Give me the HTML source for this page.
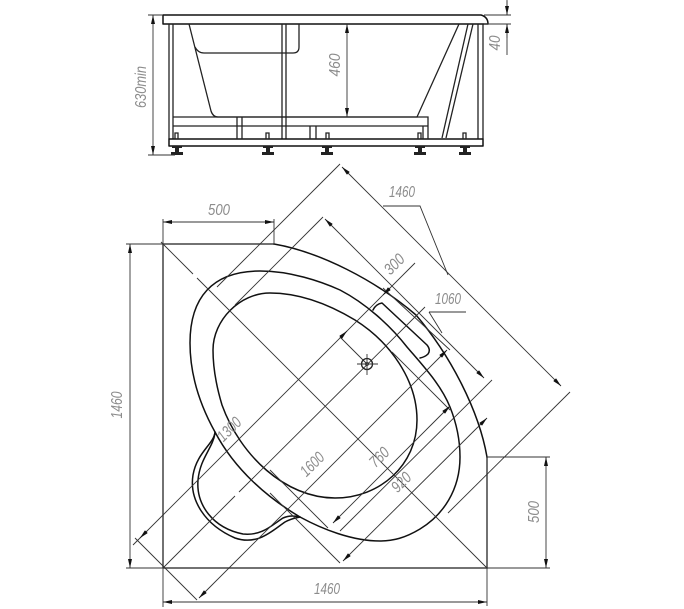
<!DOCTYPE html>
<html>
<head>
<meta charset="utf-8">
<style>
html,body{margin:0;padding:0;background:#fff;width:684px;height:609px;overflow:hidden}
svg{display:block}
text{font-family:"Liberation Sans",sans-serif;font-style:italic;font-size:16px;fill:#8c8c8c;text-anchor:middle;dominant-baseline:middle}
.k{fill:none;stroke:#111;stroke-width:1.5;stroke-linejoin:round;stroke-linecap:round}
.f{fill:none;stroke:#222;stroke-width:1.3}
.d{fill:none;stroke:#333;stroke-width:.9}
.s{fill:none;stroke:#444;stroke-width:1.5}
.a{fill:none;stroke:#333;stroke-width:.9;marker-start:url(#m);marker-end:url(#m)}
</style>
</head>
<body>
<svg width="684" height="609" viewBox="0 0 684 609" xmlns="http://www.w3.org/2000/svg">
<defs>
<marker id="m" viewBox="0 0 9 4" refX="9" refY="2" markerWidth="9" markerHeight="4" markerUnits="userSpaceOnUse" orient="auto-start-reverse">
<path d="M0 0L9 2L0 4Z" fill="#111"/>
</marker>
</defs>

<!-- elevation view -->
<path class="k" d="M163 15H481Q488 17 488 24H163Z"/>
<path class="f" d="M169 24V139M173 24V139M478 24V139M483 24V139M282 24V139M286 24V139"/>
<rect class="k" x="169" y="139" width="314" height="7"/>
<path class="f" d="M189 24L211 111Q213 117 218 117H417L459 24"/>
<path class="f" d="M195 47Q198 53 204 53H293Q299 53 299 47V24"/>
<path class="f" d="M173 117H428V139M173 126H428M423 126V139M237 117V139M242 117V139M310 126V139M316 126V139"/>
<path class="f" d="M468 24L442 138M473 24L446 138"/>
<path class="f" d="M175 139V133H178V139M266 139V133H269V139M326 139V133H329V139M418 139V133H421V139M463 139V133H466V139"/>
<g fill="#222">
<path d="M172 146h10v2h-3v4h4v3h-12v-3h4v-4h-3z"/>
<path d="M263 146h10v2h-3v4h4v3h-12v-3h4v-4h-3z"/>
<path d="M322 146h10v2h-3v4h4v3h-12v-3h4v-4h-3z"/>
<path d="M415 146h10v2h-3v4h4v3h-12v-3h4v-4h-3z"/>
<path d="M460 146h10v2h-3v4h4v3h-12v-3h4v-4h-3z"/>
</g>
<path class="d" d="M148 15H163M148 155H175M484 15H511M484 24H511M507 0V15M507 24V55"/>
<path class="a" d="M153 15V155"/>
<path class="a" d="M347 24V117"/>
<path class="d" d="M507 1V15" style="marker-end:url(#m)"/>
<path class="d" d="M507 38V24" style="marker-end:url(#m)"/>
<text transform="translate(142 87) rotate(-90)" textLength="42" lengthAdjust="spacingAndGlyphs">630min</text>
<text transform="translate(336 65) rotate(-90)" textLength="23" lengthAdjust="spacingAndGlyphs">460</text>
<text transform="translate(496 43) rotate(-90)" textLength="15" lengthAdjust="spacingAndGlyphs">40</text>

<!-- plan view -->
<path class="s" d="M163 568V244H274M163 568H487V457"/>
<path class="k" d="M274 244C320 252 375 280 416 315C451 356 479 411 487 457"/>
<path class="k" d="M260 271C290 271 320 281 340 290C365 303 390 325 407 347C425 368 441 385 450 407C456 422 460 440 460 457C460 490 443 515 420 529C405 538 393 541 380 541C352 541 322 529 300 517C268 498 235 470 215 432C200 405 190 375 190 343C190 298 212 271 260 271Z"/>
<path class="k" d="M270 293C300 293 330 305 355 320C390 342 417 380 417 420C417 465 380 498 335 498C285 498 240 455 222 405C216 385 213 368 213 350C213 320 240 293 270 293Z"/>
<path class="k" d="M215 432C214 444 197 452 193 475C189 500 205 525 235 538C258 546 273 530 285 522C292 518 296 518 300 517"/>
<path class="k" d="M215 433C213 448 200 458 198 480C196 505 213 528 243 534C262 536 272 525 283 518C290 515 295 516 300 517"/>
<path class="k" d="M373 310Q376 304 382 303L427 345Q431 350 428 354Q425 357 420 358"/>

<!-- straight construction lines -->
<path class="d" d="M161 242L193 274M197 278L487 568"/>
<path class="d" d="M163 568L235 496M239 492L425 307"/>
<path class="d" d="M340 164L217 287"/>
<path class="d" d="M323 217L235 305"/>
<path class="d" d="M570 392L448 513"/>
<path class="d" d="M492 380L340 531"/>
<path class="d" d="M135 538L197 600"/>
<path class="d" d="M270 470L328 528M270 493L340 563"/>
<path class="d" d="M383 288L450 350M340 337L367 364M392 352L450 410"/>
<path class="a" d="M342 167L561 386"/>
<path class="a" d="M325 219L484 378"/>
<path class="d" d="M133 545L415 263"/>
<path class="d" d="M147 531L140 538" style="marker-end:url(#m)"/>
<path class="d" d="M340 338L347 331" style="marker-end:url(#m)"/>
<path class="d" d="M390 288L383 295" style="marker-end:url(#m)"/>
<path class="a" d="M199 598L447 350"/>
<path class="a" d="M333 523L450 406"/>
<path class="a" d="M343 561L487 418"/>

<!-- center mark -->
<circle class="f" cx="367" cy="364" r="5.5"/>
<circle cx="367" cy="364" r="1.5" fill="none" stroke="#222" stroke-width=".8"/>
<path class="d" d="M357 364H378M367 354V375"/>

<!-- orthogonal dims -->
<path class="d" d="M163 219V244M274 219V244M126 244H163M126 568H163M163 568V607M487 568V606M487 457H550M487 568H550"/>
<path class="a" d="M163 222H274"/>
<path class="a" d="M130 244V568"/>
<path class="a" d="M163 602H487"/>
<path class="a" d="M546 457V568"/>
<path class="d" d="M383 206H420L448 275M429 312H466M429 312L442 333"/>

<text x="219" y="211" textLength="22" lengthAdjust="spacingAndGlyphs">500</text>
<text x="402" y="193" textLength="26" lengthAdjust="spacingAndGlyphs">1460</text>
<text x="448" y="300" textLength="26" lengthAdjust="spacingAndGlyphs">1060</text>
<text x="327" y="590" textLength="26" lengthAdjust="spacingAndGlyphs">1460</text>
<text transform="translate(118 405) rotate(-90)" textLength="27" lengthAdjust="spacingAndGlyphs">1460</text>
<text transform="translate(535 512) rotate(-90)" textLength="22" lengthAdjust="spacingAndGlyphs">500</text>
<text transform="translate(395 265) rotate(-45)" textLength="22" lengthAdjust="spacingAndGlyphs">300</text>
<text transform="translate(230 430) rotate(-45)" textLength="27" lengthAdjust="spacingAndGlyphs">1300</text>
<text transform="translate(313 465) rotate(-45)" textLength="27" lengthAdjust="spacingAndGlyphs">1600</text>
<text transform="translate(380 458) rotate(-45)" textLength="21" lengthAdjust="spacingAndGlyphs">760</text>
<text transform="translate(402 483) rotate(-45)" textLength="21" lengthAdjust="spacingAndGlyphs">920</text>
</svg>
</body>
</html>
